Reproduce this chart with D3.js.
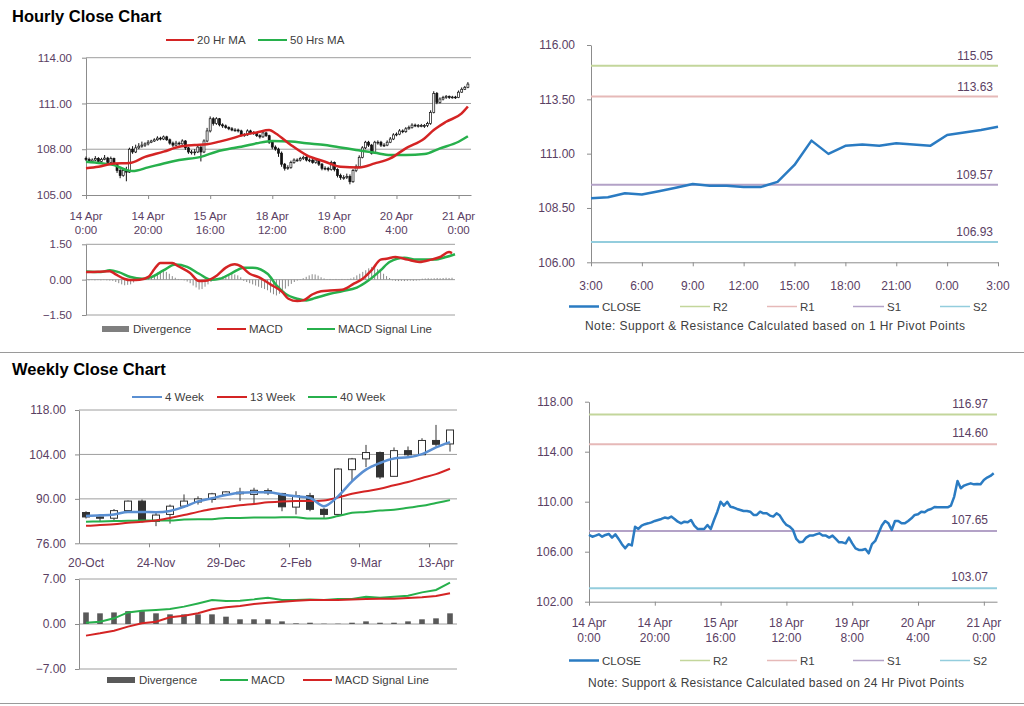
<!DOCTYPE html>
<html><head><meta charset="utf-8">
<script src="https://cdn.jsdelivr.net/npm/d3@7"></script>
<style>
body{margin:0;background:#fff;}
svg{font-family:"Liberation Sans",Arial,sans-serif;display:block;}
</style></head><body>
<svg id="c" width="1024" height="706"></svg>
<script>
// ---------------- DATA ----------------
// Hourly (14 Apr 0:00 .. 21 Apr 3:00, trading hours)
const hourTickLabels = [["14 Apr","0:00"],["14 Apr","20:00"],["15 Apr","16:00"],["18 Apr","12:00"],["19 Apr","8:00"],["20 Apr","4:00"],["21 Apr","0:00"]];
const hClose = [107.34,107.20,107.29,107.39,107.20,107.34,107.42,107.13,107.39,107.02,
106.60,106.27,106.60,106.50,108.00,107.82,108.09,108.20,108.27,108.35,
108.46,108.54,108.62,108.73,108.67,108.81,108.62,108.40,108.27,108.40,
108.35,108.54,108.09,107.82,107.82,107.82,108.14,107.82,108.54,109.20,
110.00,109.69,110.00,109.60,109.53,109.42,109.34,109.26,109.26,109.20,
108.94,108.94,109.20,109.07,109.07,108.89,108.81,109.07,108.89,108.46,
108.14,108.01,107.74,107.02,106.75,106.80,107.13,107.29,107.29,107.39,
107.47,107.29,107.29,107.13,107.29,107.02,106.75,106.75,106.67,107.13,
106.67,106.27,106.14,106.14,106.22,105.87,106.60,106.86,107.47,108.09,
108.46,108.27,107.74,108.46,108.46,108.27,108.27,108.46,108.67,108.94,
108.99,109.20,109.15,109.34,109.42,109.58,109.55,109.55,109.55,109.55,
109.69,110.41,111.66,111.07,111.29,111.39,111.47,111.39,111.42,111.39,
111.74,111.93,112.06,112.27];
const hOpen = [107.40,107.34,107.20,107.29,107.39,107.20,107.34,107.42,107.13,107.39,
107.02,106.60,106.27,106.60,106.50,108.00,107.82,108.09,108.20,108.27,
108.35,108.46,108.54,108.62,108.73,108.67,108.81,108.62,108.40,108.27,
108.40,108.35,108.54,108.09,107.82,107.82,107.82,108.14,107.82,108.54,
109.20,110.00,109.69,110.00,109.60,109.53,109.42,109.34,109.26,109.26,
109.20,108.94,108.94,109.20,109.07,109.07,108.89,108.81,109.07,108.89,
108.46,108.14,108.01,107.74,107.02,106.75,106.80,107.13,107.29,107.29,
107.39,107.47,107.29,107.29,107.13,107.29,107.02,106.75,106.75,106.67,
107.13,106.67,106.27,106.14,106.14,106.22,105.87,106.60,106.86,107.47,
108.09,108.46,108.27,107.74,108.46,108.46,108.27,108.27,108.46,108.67,
108.94,108.99,109.20,109.15,109.34,109.42,109.58,109.55,109.55,109.55,
109.55,109.69,110.41,111.66,111.07,111.29,111.39,111.47,111.39,111.42,
111.39,111.74,111.93,112.06];
const hHigh = [107.52,107.45,107.40,107.55,107.48,107.44,107.62,107.50,107.52,107.45,
107.10,106.70,106.75,106.85,108.10,108.20,108.30,108.40,108.50,108.45,
108.60,108.62,108.72,108.85,108.82,108.90,108.88,108.70,108.50,108.55,
108.50,108.65,108.60,108.15,107.95,108.00,108.30,108.20,108.65,109.40,
110.15,110.10,110.10,110.05,109.70,109.62,109.50,109.45,109.38,109.35,
109.28,109.05,109.30,109.28,109.18,109.12,108.98,109.18,109.15,108.95,
108.55,108.25,108.10,107.85,107.10,106.95,107.25,107.40,107.40,107.50,
107.58,107.55,107.40,107.35,107.38,107.35,107.10,106.88,106.85,107.25,
107.20,106.75,106.40,106.30,106.40,106.35,106.70,107.00,107.60,108.20,
108.55,108.55,108.35,108.55,108.58,108.55,108.40,108.58,108.80,109.05,
109.10,109.32,109.30,109.45,109.55,109.70,109.68,109.65,109.66,109.65,
109.80,110.55,111.80,111.75,111.40,111.50,111.55,111.52,111.50,111.50,
111.85,112.05,112.15,112.40];
const hLow = [107.22,107.10,107.12,107.22,107.12,107.15,107.28,107.05,107.08,106.90,
106.45,106.10,106.20,105.90,106.45,107.70,107.75,108.00,108.10,108.15,
108.25,108.40,108.48,108.55,108.58,108.60,108.55,108.30,108.15,108.20,
108.25,108.30,107.95,107.70,107.65,107.60,107.75,107.20,107.75,108.45,
109.10,109.55,109.60,109.50,109.40,109.35,109.25,109.18,109.15,109.10,
108.85,108.82,108.88,108.98,108.95,108.80,108.70,108.75,108.80,108.35,
108.00,107.90,107.50,106.85,106.60,106.65,106.72,107.05,107.18,107.20,
107.30,107.20,107.15,107.05,107.05,106.90,106.62,106.62,106.55,106.60,
106.55,106.15,106.00,106.00,106.05,105.70,105.80,106.50,106.80,107.40,
108.00,108.15,107.65,107.70,108.30,108.15,108.15,108.20,108.40,108.60,
108.85,108.92,109.05,109.08,109.28,109.35,109.45,109.42,109.44,109.40,
109.45,109.60,110.35,110.95,111.00,111.20,111.30,111.30,111.32,111.30,
111.35,111.70,111.88,112.00];
const ma20Idx = [0,4,9,14,19,25,30,35,39,43,47,50,55,59,61,66,71,77,82,88,93,98,103,109,112,116,121,123];
const ma20Val = [106.75,106.85,107.07,107.10,107.50,107.84,108.16,108.27,108.32,108.50,108.71,108.90,109.10,109.26,109.05,108.28,107.62,107.18,106.85,106.81,107.07,107.40,108.06,108.71,109.26,109.80,110.35,110.80];
const ma50Idx = [0,5,9,13,15,20,25,30,37,42,47,50,55,60,66,71,77,82,87,93,98,103,109,114,120,123];
const ma50Val = [107.18,107.08,106.96,106.64,106.57,106.81,107.07,107.29,107.50,107.84,108.06,108.16,108.39,108.54,108.50,108.39,108.28,108.12,107.95,107.77,107.62,107.62,107.68,108.06,108.49,108.85];
// Hourly MACD
const hDivergence = [-0.02,-0.03,-0.02,-0.03,-0.02,-0.03,-0.02,-0.03,-0.04,
-0.05,-0.1,-0.15,-0.2,-0.24,-0.22,-0.2,-0.12,-0.06,
0.02,0.02,0.03,
0.05,0.12,0.2,0.3,0.36,0.4,0.33,0.25,0.15,0.08,
0.03,0.02,-0.03,
-0.08,-0.15,-0.25,-0.33,-0.42,-0.4,-0.3,-0.2,-0.1,-0.04,
0.03,0.08,0.13,0.18,0.22,0.25,0.22,0.18,0.1,
-0.05,-0.1,-0.15,-0.2,-0.25,-0.3,-0.35,-0.4,-0.45,-0.55,-0.62,-0.67,-0.6,-0.5,-0.38,-0.28,-0.18,-0.1,-0.04,
0.02,0.06,0.12,0.18,0.23,0.22,0.17,0.1,0.05,
0.02,0.03,0.02,0.03,0.02,0.03,0.02,0.03,
0.05,0.1,0.18,0.25,0.33,0.4,0.48,0.54,0.52,0.45,0.35,0.25,0.15,0.07,
-0.03,-0.05,-0.06,-0.05,-0.06,-0.05,-0.04,-0.05,-0.04,-0.03,
0.04,0.05,0.06,0.05,0.06,0.07,0.06,0.07,0.08,0.07,0.08];
const hMacdIdx = [0,4,8,10,13,15,18,21,23,25,29,31,35,38,40,44,47,50,52,55,58,62,66,68,71,73,76,79,82,86,90,93,96,99,101,104,108,112,116,119,122,123];
const hMacdVal = [0.32,0.33,0.36,0.22,0.03,-0.02,0.0,0.12,0.45,0.71,0.71,0.57,0.28,-0.06,-0.05,0.18,0.51,0.65,0.57,0.25,0.11,-0.2,-0.53,-0.81,-0.91,-0.88,-0.63,-0.49,-0.46,-0.43,-0.17,0.04,0.40,0.85,0.89,0.96,0.85,0.75,0.85,0.96,1.17,1.13];
const hSigIdx = [0,5,8,11,15,19,22,26,30,34,38,42,45,49,53,56,61,64,67,71,74,77,82,86,91,95,99,102,107,111,117,121,124];
const hSigVal = [0.35,0.32,0.40,0.32,0.11,0.04,0.11,0.39,0.64,0.54,0.25,0.0,0.04,0.28,0.51,0.51,0.25,-0.24,-0.6,-0.81,-0.88,-0.78,-0.6,-0.49,-0.34,-0.03,0.40,0.75,0.93,0.85,0.85,0.96,1.08];
// Last 24 hours (20 Apr 3:00 .. 21 Apr 3:00)
const dayTickLabels = ["3:00","6:00","9:00","12:00","15:00","18:00","21:00","0:00","3:00"];
const close24 = [108.95,108.99,109.18,109.12,109.27,109.43,109.60,109.52,109.52,109.46,109.46,109.70,110.48,111.60,110.99,111.36,111.42,111.36,111.48,111.42,111.36,111.86,111.97,112.09,112.24];
const levelNames = ["R2","R1","S1","S2"];
const levels1h = [115.05,113.63,109.57,106.93];
const levels24h = [116.97,114.60,107.65,103.07];
// Weekly
const weeks = ["20-Oct","27-Oct","3-Nov","10-Nov","17-Nov","24-Nov","1-Dec","8-Dec","15-Dec","22-Dec","29-Dec","5-Jan","12-Jan","19-Jan","26-Jan","2-Feb","9-Feb","16-Feb","23-Feb","2-Mar","9-Mar","16-Mar","23-Mar","30-Mar","6-Apr","13-Apr","20-Apr"];
const wOpen = [85.7,84.3,83.9,86.3,89.3,82.9,85.1,87.7,89.0,89.8,91.4,92.1,91.4,92.6,91.7,87.4,91.0,86.7,85.1,99.2,102.6,104.6,97.1,105.2,103.9,108.4,107.3];
const wClose= [84.3,83.9,86.3,89.3,83.3,84.9,87.7,89.3,90.0,91.6,92.2,91.6,92.7,91.9,87.5,91.0,86.7,85.1,99.4,102.6,104.6,96.9,105.2,103.9,108.4,107.2,111.7];
const wHigh = [86.1,84.4,86.8,89.5,89.8,85.6,88.2,91.4,90.8,91.9,92.4,93.5,93.5,93.3,91.9,92.4,91.9,87.2,99.7,102.9,107.0,104.9,106.2,106.5,109.1,113.3,111.7];
const wLow  = [83.8,82.9,83.3,86.1,82.5,81.4,82.2,87.2,88.2,88.8,91.2,89.3,88.2,91.2,86.1,85.1,86.1,84.0,85.1,95.5,100.0,96.3,97.1,103.2,103.9,106.5,104.9];
const w4  = [84.6,84.8,85.1,85.9,85.9,85.8,86.2,87.5,89.2,90.2,91.2,91.9,92.1,92.1,91.4,90.8,90.3,87.7,90.8,95.5,99.2,101.3,102.7,103.1,104.1,106.2,107.9];
const w13 = [81.5,81.8,82.0,82.5,82.8,83.2,84.0,84.9,85.9,86.8,87.4,88.0,88.4,88.9,89.2,89.3,89.3,89.5,90.4,91.6,92.4,93.2,94.3,95.3,96.6,97.8,99.5];
const w40 = [82.8,82.9,83.0,83.1,83.2,83.2,83.2,83.5,83.6,83.6,84.0,84.0,84.1,84.1,84.2,84.2,83.8,83.8,84.6,85.6,85.9,86.3,86.6,87.2,87.8,88.7,89.6];
const wDiv = [1.8,1.66,1.8,2.0,2.0,1.66,1.5,1.5,1.5,1.5,1.14,0.73,0.73,0.73,0.41,0.1,0.2,0.05,0.05,0.2,0.41,0.2,0.2,0.41,0.73,0.88,1.66];
const wMacd = [0.2,0.36,0.88,1.8,2.07,2.18,2.33,2.7,3.2,3.73,3.58,3.63,3.83,4.1,3.73,3.73,3.83,3.73,3.89,3.89,4.25,4.1,4.25,4.4,4.92,5.29,6.43];
const wSignal = [-1.81,-1.45,-1.04,-0.41,0.1,0.36,1.04,1.3,1.66,2.28,2.59,2.8,3.11,3.32,3.47,3.63,3.73,3.73,3.73,3.83,3.89,3.94,3.94,4.04,4.15,4.35,4.77];

// ---------------- STYLE ----------------
const FONT = "'Liberation Sans', Arial, sans-serif";
const AX = "#8c8c8c", GRID = "#9e9e9e", TICKTXT = "#5a4063", LEGTXT = "#404040";
const RED = "#d42424", GREEN = "#27b04c", BLUE4 = "#5a8fd2", CLOSEBLUE = "#2a7bc2";
const levelColors = ["#c3d69b","#e6b9b8","#b3a2c7","#93cddd"];

const svg = d3.select("#c");

function txt(x, y, s, o = {}) {
  const t = svg.append("text").attr("x", x).attr("y", y).text(s)
    .attr("font-family", FONT).attr("font-size", o.size || 11.5)
    .attr("fill", o.fill || LEGTXT).attr("text-anchor", o.anchor || "start")
    .attr("font-weight", o.weight || "normal");
  if (o.len) t.attr("textLength", o.len).attr("lengthAdjust", "spacing");
  return t;
}
function hline(x1, x2, y, color, w) {
  svg.append("line").attr("x1", x1).attr("x2", x2).attr("y1", y).attr("y2", y)
    .attr("stroke", color).attr("stroke-width", w);
}
function legLine(x1, x2, y, color, label, w = 2) {
  hline(x1, x2, y, color, w);
  txt(x2 + 3, y + 4, label);
}
function legBar(x1, x2, y, color, label) {
  svg.append("rect").attr("x", x1).attr("y", y - 3).attr("width", x2 - x1).attr("height", 6).attr("fill", color);
  txt(x2 + 4, y + 4, label);
}
function yAxis(scale, x, vals, fmt, pad, size) {
  const g = svg.append("g").attr("transform", `translate(${x},0)`)
    .call(d3.axisLeft(scale).tickValues(vals).tickSize(4).tickSizeOuter(0).tickPadding(pad).tickFormat(fmt));
  g.select(".domain").attr("stroke", AX);
  g.selectAll(".tick line").attr("stroke", AX);
  g.selectAll(".tick text").attr("fill", TICKTXT).attr("font-size", size).attr("font-family", FONT);
}
function xAxisTicks(scale, y, vals) {
  const g = svg.append("g").attr("transform", `translate(0,${y})`)
    .call(d3.axisBottom(scale).tickValues(vals).tickSize(4).tickSizeOuter(0).tickFormat(""));
  g.select(".domain").attr("stroke", AX);
  g.selectAll(".tick line").attr("stroke", AX);
}
function grid(x1, x2, scale, vals) {
  vals.forEach(v => hline(x1, x2, scale(v), GRID, 1));
}
const f2 = d3.format(".2f");

// ---------------- TITLES / SEPARATORS ----------------
txt(12, 22, "Hourly Close Chart", {size: 16.5, weight: "bold", fill: "#000"});
txt(12, 375, "Weekly Close Chart", {size: 16.5, weight: "bold", fill: "#000"});
hline(0, 1024, 352.5, "#9a9a9a", 1);
hline(0, 1024, 703.5, "#9a9a9a", 1);

// ---------------- HOURLY CANDLE PANEL ----------------
{
  const x = d3.scaleLinear().domain([0, 124]).range([86, 471]);
  const y = d3.scaleLinear().domain([105, 114]).range([195, 57.7]);
  grid(86, 471, y, [108, 111, 114]);
  yAxis(y, 86, [105, 108, 111, 114], f2, 10, 11.5);
  const tickIdx = hourTickLabels.map((d, k) => k * 20);
  xAxisTicks(x, 195, tickIdx);
  hourTickLabels.forEach((lab, k) => {
    txt(x(tickIdx[k]), 220, lab[0], {anchor: "middle", fill: TICKTXT});
    txt(x(tickIdx[k]), 234, lab[1], {anchor: "middle", fill: TICKTXT});
  });
  const g = svg.append("g");
  hClose.forEach((c, i) => {
    const o = hOpen[i], cx = x(i);
    g.append("line").attr("x1", cx).attr("x2", cx).attr("y1", y(hHigh[i])).attr("y2", y(hLow[i]))
      .attr("stroke", "#111").attr("stroke-width", 1);
    const top = y(Math.max(o, c)), bot = y(Math.min(o, c));
    g.append("rect").attr("x", cx - 1).attr("width", 2).attr("y", top).attr("height", Math.max(0.8, bot - top))
      .attr("fill", c >= o ? "#fff" : "#111").attr("stroke", "#111").attr("stroke-width", 0.7);
  });
  const line = d3.line().x(d => x(d[0])).y(d => y(d[1])).curve(d3.curveMonotoneX);
  svg.append("path").attr("d", line(ma50Idx.map((d, i) => [d, ma50Val[i]])))
    .attr("fill", "none").attr("stroke", GREEN).attr("stroke-width", 2.5);
  svg.append("path").attr("d", line(ma20Idx.map((d, i) => [d, ma20Val[i]])))
    .attr("fill", "none").attr("stroke", RED).attr("stroke-width", 2.5);
  legLine(166, 194, 40, RED, "20 Hr MA");
  legLine(258, 287, 40, GREEN, "50 Hrs MA");
}

// ---------------- HOURLY MACD PANEL ----------------
{
  const x = d3.scaleLinear().domain([0, 124]).range([86, 455]);
  const y = d3.scaleLinear().domain([-1.5, 1.5]).range([315, 244.3]);
  grid(86, 455, y, [-1.5, 0, 1.5]);
  yAxis(y, 86, [-1.5, 0, 1.5], f2, 10, 11.5);
  hDivergence.forEach((v, i) => {
    svg.append("line").attr("x1", x(i)).attr("x2", x(i)).attr("y1", y(0)).attr("y2", y(v))
      .attr("stroke", "#8a8a8a").attr("stroke-width", 1);
  });
  const line = d3.line().x(d => x(d[0])).y(d => y(d[1])).curve(d3.curveMonotoneX);
  svg.append("path").attr("d", line(hSigIdx.map((d, i) => [d, hSigVal[i]])))
    .attr("fill", "none").attr("stroke", GREEN).attr("stroke-width", 2.5);
  svg.append("path").attr("d", line(hMacdIdx.map((d, i) => [d, hMacdVal[i]])))
    .attr("fill", "none").attr("stroke", RED).attr("stroke-width", 2.5);
  legBar(102, 129, 329, "#7f7f7f", "Divergence");
  legLine(217, 246, 329, RED, "MACD");
  legLine(307, 335, 329, GREEN, "MACD Signal Line");
}

// ---------------- PIVOT PANELS ----------------
function pivotPanel(cfg) {
  const {x, y, yTicks, xTickVals, xLabels, series, lvls, legendY, noteY, noteX, note, noteLen, labelDy, labelX} = cfg;
  yAxis(y, x.range()[0], yTicks, f2, 12, 12);
  xAxisTicks(x, y.range()[0], xTickVals);
  xLabels.forEach((lab, k) => {
    const lines = Array.isArray(lab) ? lab : [lab];
    lines.forEach((s, j) => txt(x(xTickVals[k]), cfg.xLabelY + j * 15, s, {anchor: "middle", fill: TICKTXT, size: 12}));
  });
  lvls.forEach((v, k) => {
    hline(x.range()[0], x.range()[1], y(v), levelColors[k], 2);
    txt(labelX, y(v) - labelDy, f2(v), {anchor: "end", fill: TICKTXT, size: 12});
  });
  const line = d3.line().x((d, i) => x(i)).y(d => y(d));
  svg.append("path").attr("d", line(series)).attr("fill", "none")
    .attr("stroke", CLOSEBLUE).attr("stroke-width", 2.5).attr("stroke-linejoin", "round");
  legLine(569, 599, legendY, CLOSEBLUE, "CLOSE", 2.5);
  legLine(680, 710, legendY, levelColors[0], levelNames[0], 1.5);
  legLine(767, 797, legendY, levelColors[1], levelNames[1], 1.5);
  legLine(853, 884, legendY, levelColors[2], levelNames[2], 1.5);
  legLine(940, 970, legendY, levelColors[3], levelNames[3], 1.5);
  txt(noteX, noteY, note, {size: 12, len: noteLen});
}
pivotPanel({
  x: d3.scaleLinear().domain([0, 24]).range([591, 998]),
  y: d3.scaleLinear().domain([106, 116]).range([262.3, 45]),
  yTicks: [106, 108.5, 111, 113.5, 116],
  xTickVals: dayTickLabels.map((d, k) => k * 3),
  xLabels: dayTickLabels, xLabelY: 290,
  series: close24, lvls: levels1h, labelDy: 6, labelX: 993,
  legendY: 306.5, noteY: 330, noteX: 585, noteLen: 380,
  note: "Note: Support & Resistance Calculated based on 1 Hr Pivot Points"
});
pivotPanel({
  x: d3.scaleLinear().domain([0, 124]).range([589, 997]),
  y: d3.scaleLinear().domain([102, 118]).range([601.7, 401.7]),
  yTicks: [102, 106, 110, 114, 118],
  xTickVals: hourTickLabels.map((d, k) => k * 20),
  xLabels: hourTickLabels, xLabelY: 627,
  series: hClose, lvls: levels24h, labelDy: 7, labelX: 988,
  legendY: 660.5, noteY: 687, noteX: 588, noteLen: 376,
  note: "Note:  Support & Resistance Calculated based on 24 Hr Pivot Points"
});

// ---------------- WEEKLY CANDLE PANEL ----------------
{
  const x = d3.scaleBand().domain(d3.range(weeks.length)).range([79, 457]);
  const y = d3.scaleLinear().domain([76, 118]).range([543.3, 410]);
  grid(79, 457, y, [90, 104, 118]);
  yAxis(y, 79, [76, 90, 104, 118], f2, 9, 12);
  const labIdx = weeks.map((d, i) => i).filter(i => i % 5 === 0);
  const tickX = d3.scaleLinear().domain([0, weeks.length]).range([79, 457]);
  xAxisTicks(tickX, 543.3, labIdx.filter(i => i > 0));
  labIdx.forEach(i => txt(x(i) + x.bandwidth() / 2, 567, weeks[i], {anchor: "middle", fill: TICKTXT, size: 12}));
  const cx = i => x(i) + x.bandwidth() / 2;
  wClose.forEach((c, i) => {
    const o = wOpen[i];
    svg.append("line").attr("x1", cx(i)).attr("x2", cx(i)).attr("y1", y(wHigh[i])).attr("y2", y(wLow[i]))
      .attr("stroke", "#333").attr("stroke-width", 1);
    const top = y(Math.max(o, c)), bot = y(Math.min(o, c));
    svg.append("rect").attr("x", cx(i) - 3.5).attr("width", 7).attr("y", top).attr("height", Math.max(1, bot - top))
      .attr("fill", c >= o ? "#fff" : "#333").attr("stroke", "#333").attr("stroke-width", 1);
  });
  const line = d3.line().x((d, i) => cx(i)).y(d => y(d)).curve(d3.curveMonotoneX);
  svg.append("path").attr("d", line(w40)).attr("fill", "none").attr("stroke", GREEN).attr("stroke-width", 2);
  svg.append("path").attr("d", line(w13)).attr("fill", "none").attr("stroke", RED).attr("stroke-width", 2);
  svg.append("path").attr("d", line(w4)).attr("fill", "none").attr("stroke", BLUE4).attr("stroke-width", 2.5);
  legLine(132, 162, 397, BLUE4, "4 Week");
  legLine(217, 247, 397, RED, "13 Week");
  legLine(308, 337, 397, GREEN, "40 Week");
}

// ---------------- WEEKLY MACD PANEL ----------------
{
  const x = d3.scaleBand().domain(d3.range(weeks.length)).range([79, 457]);
  const y = d3.scaleLinear().domain([-7, 7]).range([669, 579]);
  grid(79, 457, y, [-7, 0, 7]);
  yAxis(y, 79, [-7, 0, 7], f2, 9, 12);
  const cx = i => x(i) + x.bandwidth() / 2;
  wDiv.forEach((v, i) => {
    svg.append("rect").attr("x", cx(i) - 2.8).attr("width", 5.6)
      .attr("y", Math.min(y(v), y(0))).attr("height", Math.abs(y(0) - y(v))).attr("fill", "#595959");
  });
  const line = d3.line().x((d, i) => cx(i)).y(d => y(d));
  svg.append("path").attr("d", line(wMacd)).attr("fill", "none").attr("stroke", GREEN).attr("stroke-width", 2);
  svg.append("path").attr("d", line(wSignal)).attr("fill", "none").attr("stroke", RED).attr("stroke-width", 2);
  legBar(107, 135, 680, "#595959", "Divergence");
  legLine(220, 248, 680, GREEN, "MACD");
  legLine(303, 332, 680, RED, "MACD Signal Line");
}
</script>
</body></html>
